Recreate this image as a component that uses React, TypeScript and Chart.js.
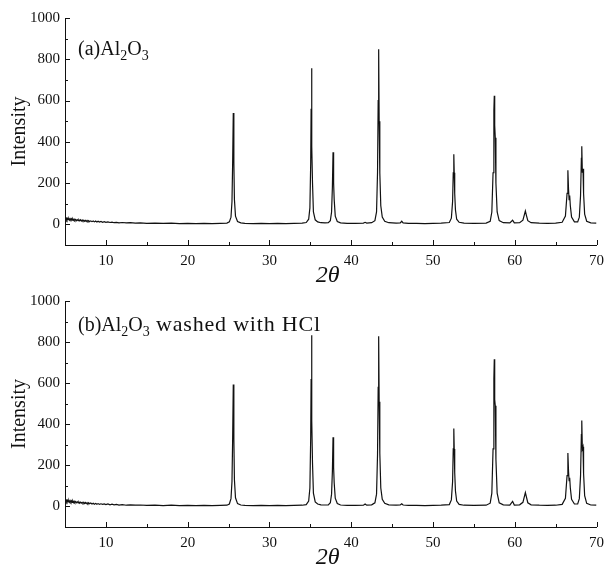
import React, { useEffect, useRef } from "react";
import { Chart, registerables } from "chart.js";

Chart.register(...registerables);

// ---- axis values ----
const xTickLabels = [10, 20, 30, 40, 50, 60, 70];
const xMinorTicks = [15, 25, 35, 45, 55, 65];
const yTickLabels = [0, 200, 400, 600, 800, 1000];
const yMinorTicks = [100, 300, 500, 700, 900];
const xMin = 5;
const xMax = 70;
const yMin = -100;
const yMax = 1000;

const xTitle = "2θ";
const yTitle = "Intensity";

// ---- panel labels (text, isSubscript) ----
const labelA: [string, boolean][] = [["(a)Al", false], ["2", true], ["O", false], ["3", true]];
const labelB: [string, boolean][] = [["(b)Al", false], ["2", true], ["O", false], ["3", true], [" washed with HCl", false]];

// ---- XRD patterns: [2θ, intensity] ----
const patternA: [number, number][] = [
  [5.0, 32], [5.08, 24], [5.16, 30], [5.24, 22], [5.32, 29], [5.4, 23], [5.48, 28], [5.56, 21], [5.64, 27], [5.72, 22],
  [5.8, 27], [5.88, 20], [5.96, 26], [6.04, 20], [6.12, 25], [6.2, 19], [6.3, 24], [6.4, 18], [6.5, 23], [6.6, 18],
  [6.7, 22], [6.8, 17], [6.9, 22], [7.0, 16], [7.1, 21], [7.2, 16], [7.3, 20], [7.4, 15], [7.5, 19], [7.6, 14],
  [7.7, 19], [7.8, 14], [7.9, 18], [8.0, 13], [8.15, 17], [8.3, 13], [8.45, 16], [8.6, 12], [8.75, 16], [8.9, 11],
  [9.05, 15], [9.2, 11], [9.4, 14], [9.6, 10], [9.8, 13], [10.0, 10], [10.25, 12], [10.5, 9], [10.75, 11], [11.0, 8],
  [11.3, 10], [11.6, 7], [12.0, 9], [12.5, 7], [13.0, 8], [13.6, 6], [14.2, 7], [15.0, 5], [16.0, 6], [17.0, 5],
  [18.0, 6], [19.0, 4], [20.0, 5], [21.0, 4], [22.0, 5], [23.0, 4], [24.0, 5], [24.8, 6],
  [25.1, 12], [25.3, 35], [25.42, 110], [25.5, 290], [25.58, 540], [25.65, 300], [25.72, 120], [25.85, 40], [26.1, 14], [26.5, 7],
  [27.0, 5], [28.0, 4], [29.0, 5], [30.0, 4], [31.0, 5], [32.0, 4], [33.0, 5], [34.0, 6], [34.5, 9],
  [34.8, 25], [34.95, 80], [35.05, 300], [35.1, 560], [35.15, 756], [35.2, 380], [35.27, 200], [35.38, 60], [35.6, 22], [35.9, 12],
  [36.3, 8], [36.8, 7], [37.2, 8],
  [37.45, 18], [37.6, 60], [37.7, 180], [37.78, 350], [37.85, 200], [37.92, 120], [38.05, 40], [38.3, 14], [38.7, 7],
  [39.5, 5], [40.5, 5], [41.5, 6], [41.7, 10], [41.9, 6], [42.5, 8],
  [42.9, 18], [43.1, 60], [43.22, 250], [43.3, 600], [43.36, 848], [43.42, 500], [43.5, 250], [43.62, 90], [43.8, 35], [44.1, 15], [44.6, 8],
  [45.5, 6], [46.0, 7], [46.18, 15], [46.35, 7], [47.0, 5], [48.0, 5], [49.0, 4], [50.0, 5], [51.0, 6], [52.0, 9],
  [52.25, 30], [52.4, 110], [52.48, 250], [52.55, 340], [52.6, 250], [52.66, 150], [52.75, 70], [52.9, 25], [53.2, 10], [53.8, 6],
  [55.0, 5], [56.5, 6],
  [57.0, 15], [57.2, 60], [57.35, 250], [57.45, 550], [57.5, 623], [57.55, 480], [57.62, 420], [57.7, 200], [57.85, 60], [58.1, 18], [58.6, 8],
  [59.4, 7], [59.74, 20], [59.95, 7], [60.6, 8],
  [61.0, 20], [61.2, 50], [61.3, 65], [61.42, 45], [61.6, 18], [62.0, 8],
  [63.0, 6], [64.0, 5], [65.0, 6], [65.8, 10],
  [66.2, 40], [66.4, 150], [66.5, 262], [66.58, 170], [66.65, 120], [66.72, 140], [66.8, 90], [66.95, 35], [67.3, 12],
  [67.7, 12], [67.9, 35], [68.05, 140], [68.15, 320], [68.2, 379], [68.27, 250], [68.35, 270], [68.42, 150], [68.55, 50], [68.8, 15],
  [69.3, 7], [70.0, 6],
];

const patternB: [number, number][] = [
  [5.0, 34], [5.08, 25], [5.16, 31], [5.24, 23], [5.32, 30], [5.4, 22], [5.48, 29], [5.56, 21], [5.64, 28], [5.72, 21],
  [5.8, 27], [5.88, 20], [5.96, 26], [6.04, 19], [6.12, 25], [6.2, 19], [6.3, 24], [6.4, 18], [6.5, 23], [6.6, 17],
  [6.7, 22], [6.8, 16], [6.9, 21], [7.0, 16], [7.1, 20], [7.2, 15], [7.3, 20], [7.4, 14], [7.5, 19], [7.6, 14],
  [7.7, 18], [7.8, 13], [7.9, 18], [8.0, 13], [8.15, 17], [8.3, 12], [8.45, 16], [8.6, 11], [8.75, 15], [8.9, 11],
  [9.05, 14], [9.2, 10], [9.4, 13], [9.6, 10], [9.8, 12], [10.0, 9], [10.25, 12], [10.5, 8], [10.75, 11], [11.0, 8],
  [11.3, 10], [11.6, 7], [12.0, 9], [12.5, 6], [13.0, 8], [13.6, 6], [14.2, 7], [15.0, 5], [16.0, 6], [17.0, 4],
  [18.0, 6], [19.0, 4], [20.0, 5], [21.0, 4], [22.0, 5], [23.0, 4], [24.0, 5], [24.8, 6],
  [25.1, 12], [25.3, 38], [25.42, 120], [25.5, 320], [25.58, 594], [25.65, 330], [25.72, 130], [25.85, 42], [26.1, 14], [26.5, 7],
  [27.0, 5], [28.0, 4], [29.0, 5], [30.0, 4], [31.0, 5], [32.0, 4], [33.0, 5], [34.0, 6], [34.5, 9],
  [34.8, 26], [34.95, 90], [35.05, 340], [35.1, 620], [35.15, 833], [35.2, 420], [35.27, 210], [35.38, 65], [35.6, 22], [35.9, 12],
  [36.3, 8], [36.8, 7], [37.2, 8],
  [37.45, 18], [37.6, 60], [37.7, 170], [37.78, 337], [37.85, 190], [37.92, 115], [38.05, 40], [38.3, 14], [38.7, 7],
  [39.5, 5], [40.5, 5], [41.5, 6], [41.7, 12], [41.9, 6], [42.5, 8],
  [42.9, 18], [43.1, 60], [43.22, 250], [43.3, 580], [43.36, 829], [43.42, 510], [43.5, 260], [43.62, 90], [43.8, 35], [44.1, 15], [44.6, 8],
  [45.5, 6], [46.0, 7], [46.18, 13], [46.35, 7], [47.0, 5], [48.0, 5], [49.0, 4], [50.0, 5], [51.0, 6], [52.0, 9],
  [52.25, 32], [52.4, 120], [52.48, 280], [52.55, 379], [52.6, 280], [52.66, 165], [52.75, 75], [52.9, 26], [53.2, 10], [53.8, 6],
  [55.0, 5], [56.5, 6],
  [57.0, 16], [57.2, 65], [57.35, 280], [57.45, 620], [57.5, 716], [57.55, 520], [57.62, 490], [57.7, 230], [57.85, 65], [58.1, 18], [58.6, 8],
  [59.4, 7], [59.74, 25], [59.95, 7], [60.6, 8],
  [61.0, 20], [61.2, 52], [61.3, 68], [61.42, 48], [61.6, 18], [62.0, 8],
  [63.0, 6], [64.0, 5], [65.0, 6], [65.8, 10],
  [66.2, 40], [66.4, 150], [66.5, 260], [66.58, 170], [66.65, 125], [66.72, 140], [66.8, 90], [66.95, 35], [67.3, 12],
  [67.7, 12], [67.9, 38], [68.05, 150], [68.15, 350], [68.2, 418], [68.27, 280], [68.35, 290], [68.42, 160], [68.55, 52], [68.8, 15],
  [69.3, 7], [70.0, 6],
];

const SERIF = "'Liberation Serif', 'Times New Roman', serif";
const INK = "#111";

function makeChart(canvas: HTMLCanvasElement, pattern: [number, number][], label: [string, boolean][], labelDx: number, labelDy: number) {
  const decor = {
    id: "decor",
    afterDraw(chart: any) {
      const ctx = chart.ctx as CanvasRenderingContext2D;
      const { left, right, top, bottom } = chart.chartArea;
      const xs = chart.scales.x;
      const ys = chart.scales.y;
      ctx.save();
      ctx.strokeStyle = INK;
      ctx.lineWidth = 1;
      ctx.beginPath();
      xTickLabels.forEach((v) => {
        const px = Math.round(xs.getPixelForValue(v)) + 0.5;
        ctx.moveTo(px, bottom);
        ctx.lineTo(px, bottom - 5);
      });
      xMinorTicks.forEach((v) => {
        const px = Math.round(xs.getPixelForValue(v)) + 0.5;
        ctx.moveTo(px, bottom);
        ctx.lineTo(px, bottom - 3);
      });
      yTickLabels.forEach((v) => {
        const py = Math.round(ys.getPixelForValue(v)) + 0.5;
        ctx.moveTo(left, py);
        ctx.lineTo(left + 5, py);
      });
      yMinorTicks.forEach((v) => {
        const py = Math.round(ys.getPixelForValue(v)) + 0.5;
        ctx.moveTo(left, py);
        ctx.lineTo(left + 3, py);
      });
      ctx.stroke();

      ctx.fillStyle = INK;
      // y title
      ctx.save();
      ctx.translate(20, (top + bottom) / 2);
      ctx.rotate(-Math.PI / 2);
      ctx.font = `20px ${SERIF}`;
      ctx.textAlign = "center";
      ctx.textBaseline = "middle";
      ctx.fillText(yTitle, 0, 0);
      ctx.restore();

      // x title
      ctx.font = `italic 24px ${SERIF}`;
      ctx.textAlign = "center";
      ctx.textBaseline = "alphabetic";
      ctx.fillText(xTitle, (left + right) / 2 - 3, bottom + 37);

      // panel label
      let x = left + labelDx;
      const y = top + labelDy;
      ctx.textAlign = "left";
      label.forEach(([t, sub]) => {
        const trailing = !sub && t.startsWith(" ");
        ctx.font = sub ? `14px ${SERIF}` : trailing ? `22px ${SERIF}` : `20px ${SERIF}`;
        (ctx as any).letterSpacing = trailing ? "0.8px" : "0px";
        ctx.fillText(t, x, sub ? y + 5 : y);
        x += ctx.measureText(t).width;
      });
      (ctx as any).letterSpacing = "0px";
      ctx.restore();
    },
  };

  return new Chart(canvas, {
    type: "line",
    data: {
      datasets: [
        {
          data: pattern.map(([x, y]) => ({ x, y })),
          borderColor: INK,
          borderWidth: 1.2,
          pointRadius: 0,
          tension: 0,
          fill: false,
        },
      ],
    },
    options: {
      animation: false,
      responsive: false,
      devicePixelRatio: 1,
      layout: { padding: { top: 18, right: 10, left: 0, bottom: 0 } },
      plugins: { legend: { display: false }, tooltip: { enabled: false } },
      scales: {
        x: {
          type: "linear",
          min: xMin,
          max: xMax,
          afterBuildTicks: (s: any) => {
            s.ticks = xTickLabels.map((v) => ({ value: v }));
          },
          afterFit: (s: any) => {
            s.height = 38;
          },
          ticks: { color: INK, font: { family: SERIF, size: 15 }, padding: 7, maxRotation: 0, autoSkip: false, callback: (v: any) => String(v) },
          grid: { display: true, drawOnChartArea: false, drawTicks: false },
          border: { display: true, color: INK, width: 1 },
        },
        y: {
          type: "linear",
          min: yMin,
          max: yMax,
          afterBuildTicks: (s: any) => {
            s.ticks = yTickLabels.map((v) => ({ value: v }));
          },
          afterFit: (s: any) => {
            s.width = 65;
          },
          ticks: { color: INK, font: { family: SERIF, size: 15 }, padding: 5, autoSkip: false, callback: (v: any) => String(v) },
          grid: { display: true, drawOnChartArea: false, drawTicks: false },
          border: { display: true, color: INK, width: 1 },
        },
      },
    },
    plugins: [decor],
  } as any);
}

export default function App() {
  const topRef = useRef<HTMLCanvasElement>(null);
  const botRef = useRef<HTMLCanvasElement>(null);

  useEffect(() => {
    const a = makeChart(topRef.current!, patternA, labelA, 13, 37);
    const b = makeChart(botRef.current!, patternB, labelB, 13, 30);
    return () => {
      a.destroy();
      b.destroy();
    };
  }, []);

  return (
    <div style={{ position: "absolute", left: 0, top: 0, width: 611, height: 565, background: "#fff" }}>
      <canvas ref={topRef} width={611} height={283} style={{ position: "absolute", left: 0, top: 0, width: 611, height: 283 }} />
      <canvas ref={botRef} width={611} height={282} style={{ position: "absolute", left: 0, top: 283, width: 611, height: 282 }} />
    </div>
  );
}
